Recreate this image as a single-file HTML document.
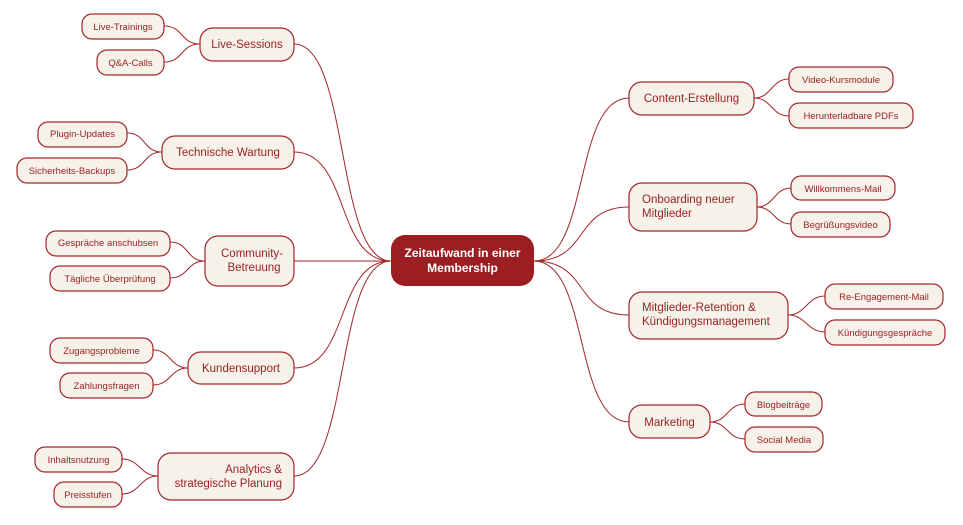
<!DOCTYPE html>
<html><head><meta charset="utf-8"><style>
html,body{margin:0;padding:0;background:#fff;}
svg{display:block;font-family:"Liberation Sans",sans-serif;}
.n{fill:#f6f1e9;stroke:#a3262b;stroke-width:1.2;}
.l{fill:none;stroke:#a3262b;stroke-width:1;}
.t{fill:#9b2226;font-size:11.5px;}
.s{fill:#9b2226;font-size:9.5px;}
</style></head><body>
<svg width="963" height="525" viewBox="0 0 963 525">
<!-- main connectors left -->
<path class="l" d="M391,261 C335,261 350,44 294,44"/>
<path class="l" d="M391,261 C335,261 350,152 294,152"/>
<path class="l" d="M391,261 L294,261"/>
<path class="l" d="M391,261 C335,261 350,368 294,368"/>
<path class="l" d="M391,261 C335,261 350,476 294,476"/>
<!-- main connectors right -->
<path class="l" d="M534,261 C590,261 573,98 629,98"/>
<path class="l" d="M534,261 C590,261 573,207 629,207"/>
<path class="l" d="M534,261 C590,261 573,315 629,315"/>
<path class="l" d="M534,261 C590,261 573,422 629,422"/>
<!-- leaf connectors left -->
<path class="l" d="M200,44 C180,44 184,26 164,26"/><path class="l" d="M200,44 C180,44 184,62 164,62"/>
<path class="l" d="M162,152 C143,152 146,133 127,133"/><path class="l" d="M162,152 C143,152 146,170 127,170"/>
<path class="l" d="M205,261 C186,261 189,242 170,242"/><path class="l" d="M205,261 C186,261 189,278 170,278"/>
<path class="l" d="M188,368 C170,368 171,350 153,350"/><path class="l" d="M188,368 C170,368 171,385 153,385"/>
<path class="l" d="M158,476 C140,476 140,459 122,459"/><path class="l" d="M158,476 C140,476 140,494 122,494"/>
<!-- leaf connectors right -->
<path class="l" d="M754,98 C772,98 771,79 789,79"/><path class="l" d="M754,98 C772,98 771,116 789,116"/>
<path class="l" d="M757,207 C774,207 774,188 791,188"/><path class="l" d="M757,207 C774,207 774,224 791,224"/>
<path class="l" d="M788,315 C806,315 807,296 825,296"/><path class="l" d="M788,315 C806,315 807,332 825,332"/>
<path class="l" d="M710,422 C728,422 727,404 745,404"/><path class="l" d="M710,422 C728,422 727,439 745,439"/>

<!-- central -->
<rect x="391" y="235" width="143" height="51" rx="14" fill="#9b1f22"/>
<text x="462.5" y="257" text-anchor="middle" fill="#fff" font-size="12" font-weight="bold">Zeitaufwand in einer</text>
<text x="462.5" y="272" text-anchor="middle" fill="#fff" font-size="12" font-weight="bold">Membership</text>

<!-- left main -->
<rect class="n" x="200" y="28" width="94" height="33" rx="13"/><text class="t" x="247" y="48" text-anchor="middle">Live-Sessions</text>
<rect class="n" x="162" y="136" width="132" height="33" rx="13"/><text class="t" x="228" y="156" text-anchor="middle">Technische Wartung</text>
<rect class="n" x="205" y="236" width="89" height="50" rx="13"/><text class="t" x="252" y="257" text-anchor="middle">Community-</text><text class="t" x="254" y="271" text-anchor="middle">Betreuung</text>
<rect class="n" x="188" y="352" width="106" height="32" rx="13"/><text class="t" x="241" y="372" text-anchor="middle">Kundensupport</text>
<rect class="n" x="158" y="453" width="136" height="47" rx="13"/><text class="t" x="282" y="473" text-anchor="end">Analytics &amp;</text><text class="t" x="282" y="487" text-anchor="end">strategische Planung</text>

<!-- left leaves -->
<rect class="n" x="82" y="14" width="82" height="25" rx="10"/><text class="s" x="123" y="30" text-anchor="middle">Live-Trainings</text>
<rect class="n" x="97" y="50" width="67" height="25" rx="10"/><text class="s" x="130.5" y="66" text-anchor="middle">Q&amp;A-Calls</text>
<rect class="n" x="38" y="122" width="89" height="25" rx="10"/><text class="s" x="82.5" y="137" text-anchor="middle">Plugin-Updates</text>
<rect class="n" x="17" y="158" width="110" height="25" rx="10"/><text class="s" x="72" y="174" text-anchor="middle">Sicherheits-Backups</text>
<rect class="n" x="46" y="231" width="124" height="25" rx="10"/><text class="s" x="108" y="246" text-anchor="middle">Gespräche anschubsen</text>
<rect class="n" x="50" y="266" width="120" height="25" rx="10"/><text class="s" x="110" y="282" text-anchor="middle">Tägliche Überprüfung</text>
<rect class="n" x="50" y="338" width="103" height="25" rx="10"/><text class="s" x="101.5" y="354" text-anchor="middle">Zugangsprobleme</text>
<rect class="n" x="60" y="373" width="93" height="25" rx="10"/><text class="s" x="106.5" y="389" text-anchor="middle">Zahlungsfragen</text>
<rect class="n" x="35" y="447" width="87" height="25" rx="10"/><text class="s" x="78.5" y="463" text-anchor="middle">Inhaltsnutzung</text>
<rect class="n" x="54" y="482" width="68" height="25" rx="10"/><text class="s" x="88" y="498" text-anchor="middle">Preisstufen</text>

<!-- right main -->
<rect class="n" x="629" y="82" width="125" height="33" rx="13"/><text class="t" x="691.5" y="102" text-anchor="middle">Content-Erstellung</text>
<rect class="n" x="629" y="183" width="128" height="48" rx="13"/><text class="t" x="642" y="203">Onboarding neuer</text><text class="t" x="642" y="217">Mitglieder</text>
<rect class="n" x="629" y="292" width="159" height="47" rx="13"/><text class="t" x="642" y="311">Mitglieder-Retention &amp;</text><text class="t" x="642" y="325">Kündigungsmanagement</text>
<rect class="n" x="629" y="405" width="81" height="33" rx="13"/><text class="t" x="669.5" y="426" text-anchor="middle">Marketing</text>

<!-- right leaves -->
<rect class="n" x="789" y="67" width="104" height="25" rx="10"/><text class="s" x="841" y="83" text-anchor="middle">Video-Kursmodule</text>
<rect class="n" x="789" y="103" width="124" height="25" rx="10"/><text class="s" x="851" y="119" text-anchor="middle">Herunterladbare PDFs</text>
<rect class="n" x="791" y="176" width="104" height="24" rx="10"/><text class="s" x="843" y="192" text-anchor="middle">Willkommens-Mail</text>
<rect class="n" x="791" y="212" width="99" height="25" rx="10"/><text class="s" x="840.5" y="228" text-anchor="middle">Begrüßungsvideo</text>
<rect class="n" x="825" y="284" width="118" height="25" rx="10"/><text class="s" x="884" y="300" text-anchor="middle">Re-Engagement-Mail</text>
<rect class="n" x="825" y="320" width="120" height="25" rx="10"/><text class="s" x="885" y="336" text-anchor="middle">Kündigungsgespräche</text>
<rect class="n" x="745" y="392" width="77" height="24" rx="10"/><text class="s" x="783.5" y="408" text-anchor="middle">Blogbeiträge</text>
<rect class="n" x="745" y="427" width="78" height="25" rx="10"/><text class="s" x="784" y="443" text-anchor="middle">Social Media</text>
</svg>
</body></html>
